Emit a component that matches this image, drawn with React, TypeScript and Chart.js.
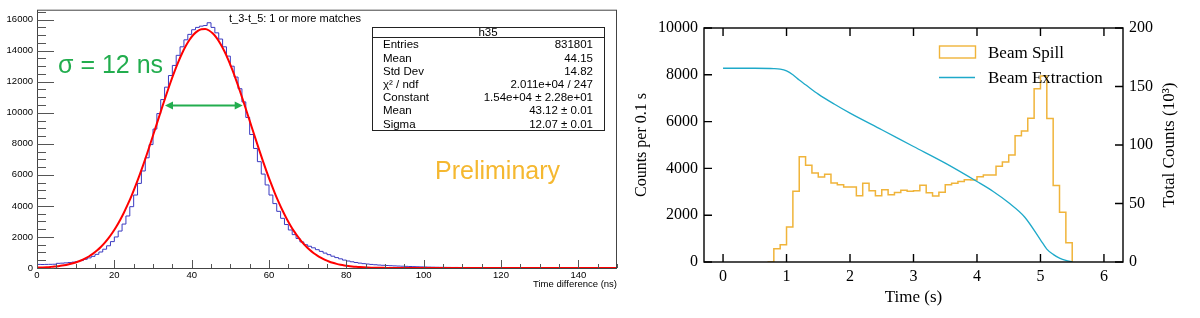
import { useEffect, useRef } from 'react';
import { Chart, registerables } from 'chart.js';
Chart.register(...registerables);

// ================= LEFT PANEL: ROOT histogram h35 =================
const h35BinWidth = 1; // ns
const h35Counts = [
  230, 225, 232, 236, 242, 300, 312, 330, 352, 380,
  420, 478, 560, 650, 750, 880, 1030, 1210, 1430, 1700,
  2000, 2380, 2830, 3350, 3950, 4700, 5450, 6250, 7100, 7950,
  8950, 9950, 10850, 11650, 12400, 13050, 13700, 14250, 14700, 15050,
  15350, 15500, 15580, 15620, 15800, 15500, 15150, 14750, 14250, 13650,
  13000, 12300, 11550, 10700, 9700, 8600, 7700, 6850, 6050, 5350,
  4700, 4150, 3650, 3200, 2800, 2450, 2150, 1900, 1680, 1500,
  1400, 1300, 1180, 1070, 960, 860, 760, 670, 590, 510,
  450, 400, 355, 315, 280, 255, 230, 210, 190, 175,
  160, 148, 136, 125, 115, 105, 96, 88, 80, 72,
  65, 58, 52, 47, 43, 40, 38, 35, 36, 33,
  31, 34, 30, 29, 31, 28, 27, 30, 26, 25,
  28, 24, 26, 23, 25, 22, 24, 21, 23, 20,
  22, 21, 19, 22, 20, 18, 21, 19, 17, 20,
  18, 17, 19, 16, 18, 17, 16, 18, 15, 17,
];
const fitTime = [
  0, 0.5, 1.5, 2.5, 3.5, 4.5, 5.5, 6.5, 7.5, 8.5, 9.5,
  10.5, 11.5, 12.5, 13.5, 14.5, 15.5, 16.5, 17.5, 18.5, 19.5,
  20.5, 21.5, 22.5, 23.5, 24.5, 25.5, 26.5, 27.5, 28.5, 29.5,
  30.5, 31.5, 32.5, 33.5, 34.5, 35.5, 36.5, 37.5, 38.5, 39.5,
  40.5, 41.5, 42.5, 43.5, 44.5, 45.5, 46.5, 47.5, 48.5, 49.5,
  50.5, 51.5, 52.5, 53.5, 54.5, 55.5, 56.5, 57.5, 58.5, 59.5,
  60.5, 61.5, 62.5, 63.5, 64.5, 65.5, 66.5, 67.5, 68.5, 69.5,
  70.5, 71.5, 72.5, 73.5, 74.5, 75.5, 76.5, 77.5, 78.5, 79.5,
  80.5, 81.5, 82.5, 83.5, 84.5, 85.5, 86.5, 87.5, 88.5, 89.5,
  90.5, 92.5, 95, 100, 150,
];
const fitValue = [
  25, 30, 40, 53, 71, 92, 120, 154, 198, 252, 318,
  400, 498, 617, 758, 926, 1123, 1354, 1619, 1924, 2270,
  2660, 3097, 3579, 4110, 4685, 5307, 5968, 6665, 7395, 8147,
  8915, 9688, 10457, 11210, 11933, 12617, 13250, 13818, 14313, 14722,
  15041, 15261, 15380, 15392, 15300, 15103, 14808, 14419, 13945, 13392,
  12774, 12103, 11387, 10640, 9873, 9100, 8331, 7574, 6839, 6132,
  5461, 4829, 4244, 3702, 3208, 2760, 2359, 2002, 1688, 1414,
  1175, 970, 796, 648, 524, 421, 336, 266, 210, 164,
  127, 98, 75, 57, 43, 32, 24, 18, 13, 9,
  7, 4, 2, 0.3, 0,
];
const rootXTicks = [0, 20, 40, 60, 80, 100, 120, 140];
const rootYTicks = [0, 2000, 4000, 6000, 8000, 10000, 12000, 14000, 16000];
const statsTitle = 'h35';
const statsLabels = ['Entries', 'Mean', 'Std Dev', 'χ² / ndf', 'Constant', 'Mean', 'Sigma'];
const statsValues = ['831801', '44.15', '14.82', '2.011e+04 / 247', '1.54e+04 ± 2.28e+01', '43.12 ± 0.01', '12.07 ± 0.01'];
const histTitle = 't_3-t_5: 1 or more matches';
const sigmaText = 'σ = 12 ns';
const arrowFrom = 33.1; // ns
const arrowTo = 53.2; // ns
const arrowLevel = 10470; // counts
const prelimText = 'Preliminary';

// ================= RIGHT PANEL: beam spill =================
const spillBinWidth = 0.1; // s
const spillBinStart = [
  0.7, 0.8, 0.9, 1.0, 1.1, 1.2, 1.3, 1.4, 1.5, 1.6, 1.7, 1.8, 1.9, 2.0, 2.1, 2.2,
  2.3, 2.4, 2.5, 2.6, 2.7, 2.8, 2.9, 3.0, 3.1, 3.2, 3.3, 3.4, 3.5, 3.6, 3.7, 3.8,
  3.9, 4.0, 4.1, 4.2, 4.3, 4.4, 4.5, 4.6, 4.7, 4.8, 4.9, 5.0, 5.1, 5.2, 5.3, 5.4,
];
const spillCounts = [
  0, 570, 740, 1500, 3020, 4500, 4130, 3800, 3630, 3750, 3380, 3300, 3200, 3200, 2830, 3370,
  3040, 2830, 3090, 2870, 2970, 3070, 3020, 3050, 3280, 2960, 2820, 2980, 3300, 3370, 3440, 3520,
  3500, 3640, 3720, 3720, 4090, 4270, 4570, 5400, 5600, 6140, 7400, 7950, 6130, 3270, 2130, 820,
];
const extractionTime = [0, 0.5, 0.8, 0.9, 1.0, 1.1, 1.2, 1.3, 1.5, 1.75, 2.0, 2.5, 3.0, 3.5, 4.0, 4.25, 4.5, 4.75, 5.0, 5.1, 5.2, 5.3, 5.4, 5.5];
const extractionTotal = [165.6, 165.6, 165.3, 164.8, 163.3, 160, 155.5, 151.5, 143.5, 135, 127.2, 113, 98.7, 84.5, 68.8, 60.5, 50.6, 38.5, 19, 11, 6.5, 3.3, 1.3, 0.2];
const timeTicks = [0, 1, 2, 3, 4, 5, 6];
const countTicks = [0, 2000, 4000, 6000, 8000, 10000];
const totalTicks = [0, 50, 100, 150, 200];
const spillLabel = 'Beam Spill';
const extractionLabel = 'Beam Extraction';
const xTitleRight = 'Time (s)';
const yTitleLeft = 'Counts per 0.1 s';
const yTitleRight = 'Total Counts (10³)';

const SANS = "'Liberation Sans', Arial, sans-serif";
const SERIF = "'Liberation Serif', 'DejaVu Serif', serif";
const ORANGE = '#f0b43a';
const CYAN = '#1ea9c9';
const GREEN = '#22ad4e';

const setTicks = (vals: number[]) => (s: any) => { s.ticks = vals.map((v) => ({ value: v })); };
const plainLabel = (v: any) => String(v);

// ---------- ROOT decorations plugin ----------
const rootPlugin = {
  id: 'rootDecor',
  afterDraw(chart: any) {
    const { ctx, chartArea: a, scales } = chart;
    const xs = scales.x, ys = scales.y;
    ctx.save();
    ctx.strokeStyle = '#444';
    ctx.lineWidth = 1;
    ctx.strokeRect(a.left + 0.5, a.top + 0.5, a.right - a.left - 1, a.bottom - a.top);
    ctx.strokeStyle = '#555';
    ctx.beginPath();
    for (let v = 0; v <= ys.max; v += 500) {
      const py = Math.round(ys.getPixelForValue(v)) + 0.5;
      const len = v % 2000 === 0 ? 17 : 9;
      ctx.moveTo(a.left, py);
      ctx.lineTo(a.left + len, py);
    }
    for (let v = 0; v <= xs.max; v += 5) {
      const px = Math.round(xs.getPixelForValue(v)) + 0.5;
      const len = v % 20 === 0 ? 8 : 4;
      ctx.moveTo(px, a.bottom);
      ctx.lineTo(px, a.bottom - len);
    }
    ctx.stroke();
    ctx.fillStyle = '#000';
    ctx.font = `11px ${SANS}`;
    ctx.textBaseline = 'middle';
    ctx.textAlign = 'left';
    ctx.fillText(histTitle, 229, 19);
    const bx = 372, by = 27, bw = 232, bh = 103;
    ctx.fillStyle = '#fff';
    ctx.fillRect(bx, by, bw, bh);
    ctx.strokeStyle = '#222';
    ctx.strokeRect(bx + 0.5, by + 0.5, bw, bh);
    ctx.beginPath();
    ctx.moveTo(bx, by + 10.5);
    ctx.lineTo(bx + bw, by + 10.5);
    ctx.stroke();
    ctx.fillStyle = '#000';
    ctx.font = `11.5px ${SANS}`;
    ctx.textAlign = 'center';
    ctx.fillText(statsTitle, bx + bw / 2, by + 6);
    statsLabels.forEach((lab, i) => {
      const yy = 45.2 + i * 13.2;
      ctx.textAlign = 'left';
      ctx.fillText(lab, 383, yy);
      ctx.textAlign = 'right';
      ctx.fillText(statsValues[i], 593, yy);
    });
    ctx.fillStyle = GREEN;
    ctx.font = `25px ${SANS}`;
    ctx.textAlign = 'left';
    ctx.textBaseline = 'alphabetic';
    ctx.fillText(sigmaText, 58, 73);
    const x1 = xs.getPixelForValue(arrowFrom);
    const x2 = xs.getPixelForValue(arrowTo);
    const ay = ys.getPixelForValue(arrowLevel);
    ctx.strokeStyle = GREEN;
    ctx.lineWidth = 2.2;
    ctx.beginPath();
    ctx.moveTo(x1 + 4, ay);
    ctx.lineTo(x2 - 4, ay);
    ctx.stroke();
    ctx.beginPath();
    ctx.moveTo(x1, ay); ctx.lineTo(x1 + 8, ay - 4); ctx.lineTo(x1 + 8, ay + 4); ctx.closePath();
    ctx.moveTo(x2, ay); ctx.lineTo(x2 - 8, ay - 4); ctx.lineTo(x2 - 8, ay + 4); ctx.closePath();
    ctx.fill();
    ctx.fillStyle = '#f5b830';
    ctx.font = `25px ${SANS}`;
    ctx.fillText(prelimText, 435, 179);
    ctx.restore();
  },
};

// ---------- gnuplot-style decorations plugin ----------
const gnuPlugin = {
  id: 'gnuDecor',
  afterDraw(chart: any) {
    const { ctx, chartArea: a, scales } = chart;
    const xs = scales.x, ys = scales.y, y2 = scales.y2;
    ctx.save();
    ctx.strokeStyle = '#000';
    ctx.lineWidth = 1.4;
    ctx.strokeRect(a.left, a.top, a.right - a.left, a.bottom - a.top);
    const tl = 8;
    ctx.beginPath();
    xs.ticks.forEach((t: any) => {
      const px = xs.getPixelForValue(t.value);
      ctx.moveTo(px, a.bottom); ctx.lineTo(px, a.bottom - tl);
      ctx.moveTo(px, a.top); ctx.lineTo(px, a.top + tl);
    });
    ys.ticks.forEach((t: any) => {
      const py = ys.getPixelForValue(t.value);
      ctx.moveTo(a.left, py); ctx.lineTo(a.left + tl, py);
    });
    y2.ticks.forEach((t: any) => {
      const py = y2.getPixelForValue(t.value);
      ctx.moveTo(a.right, py); ctx.lineTo(a.right - tl, py);
    });
    ctx.stroke();
    const ds = chart.data.datasets;
    ctx.font = `17px ${SERIF}`;
    ctx.textAlign = 'left';
    ctx.textBaseline = 'alphabetic';
    ctx.lineWidth = 1.4;
    ds.forEach((d: any, i: number) => {
      const base = 58 + i * 25;
      ctx.strokeStyle = d.borderColor;
      if (d.stepped) {
        ctx.strokeRect(319.5, base - 12, 36, 12);
      } else {
        ctx.beginPath();
        ctx.moveTo(319, base - 5.5);
        ctx.lineTo(355, base - 5.5);
        ctx.stroke();
      }
      ctx.fillStyle = '#000';
      ctx.fillText(d.label, 368, base);
    });
    ctx.save();
    ctx.translate(y2.right - 30, (y2.top + y2.bottom) / 2);
    ctx.rotate(-Math.PI / 2);
    ctx.textAlign = 'center';
    ctx.textBaseline = 'middle';
    ctx.font = `17px ${SERIF}`;
    ctx.fillText(yTitleRight, 0, 0);
    ctx.restore();
    ctx.restore();
  },
};

function leftConfig(): any {
  const hist = h35Counts.map((v, i) => ({ x: i * h35BinWidth, y: v }));
  hist.push({ x: h35Counts.length * h35BinWidth, y: h35Counts[h35Counts.length - 1] });
  const fit = fitTime.map((t, i) => ({ x: t, y: fitValue[i] }));
  const tickFont = { family: SANS, size: 9.5 };
  return {
    type: 'line',
    data: {
      datasets: [
        { label: 'fit', data: fit, borderColor: '#ff0000', borderWidth: 2, pointRadius: 0, fill: false, cubicInterpolationMode: 'monotone', order: 0 },
        { label: 'h35', data: hist, borderColor: '#3a3ac0', borderWidth: 1, pointRadius: 0, fill: false, stepped: 'before', order: 1 },
      ],
    },
    options: {
      animation: false,
      responsive: false,
      layout: { padding: { top: 7, right: 3, left: 0, bottom: 0 } },
      plugins: { legend: { display: false }, tooltip: { enabled: false } },
      scales: {
        x: {
          type: 'linear', min: 0, max: 150,
          grid: { display: false, drawTicks: false }, border: { display: false },
          afterBuildTicks: setTicks(rootXTicks),
          ticks: { font: tickFont, color: '#000', padding: 2, maxRotation: 0, autoSkip: false, callback: plainLabel },
          title: { display: true, text: 'Time difference (ns)', align: 'end', color: '#000', font: { family: SANS, size: 9.5 }, padding: { top: 0, bottom: 28 } },
          afterFit: (s: any) => { s.height = 50; },
        },
        y: {
          type: 'linear', min: 0, max: 16640,
          grid: { display: false, drawTicks: false }, border: { display: false },
          afterBuildTicks: setTicks(rootYTicks),
          ticks: { font: tickFont, color: '#000', padding: 4, autoSkip: false, callback: plainLabel },
          afterFit: (s: any) => { s.width = 37; },
        },
      },
    },
    plugins: [rootPlugin],
  };
}

function rightConfig(): any {
  const spill = spillBinStart.map((t, i) => ({ x: t, y: spillCounts[i] }));
  spill.push({ x: spillBinStart[spillBinStart.length - 1] + spillBinWidth, y: 0 });
  const extr = extractionTime.map((t, i) => ({ x: t, y: extractionTotal[i] }));
  const tickFont = { family: SERIF, size: 16 };
  return {
    type: 'line',
    data: {
      datasets: [
        { label: spillLabel, data: spill, borderColor: ORANGE, borderWidth: 1.5, pointRadius: 0, fill: false, stepped: 'before', yAxisID: 'y', order: 1 },
        { label: extractionLabel, data: extr, borderColor: CYAN, borderWidth: 1.3, pointRadius: 0, fill: false, cubicInterpolationMode: 'monotone', yAxisID: 'y2', order: 0 },
      ],
    },
    options: {
      animation: false,
      responsive: false,
      layout: { padding: { top: 28, right: 0, left: 0, bottom: 0 } },
      plugins: { legend: { display: false }, tooltip: { enabled: false } },
      scales: {
        x: {
          type: 'linear', min: -0.3, max: 6.3,
          grid: { display: false, drawTicks: false }, border: { display: false },
          afterBuildTicks: setTicks(timeTicks),
          ticks: { font: tickFont, color: '#000', padding: 5, maxRotation: 0, autoSkip: false, callback: plainLabel },
          title: { display: true, text: xTitleRight, color: '#000', font: { family: SERIF, size: 17 }, padding: { top: 0, bottom: 10 } },
          afterFit: (s: any) => { s.height = 56; },
        },
        y: {
          type: 'linear', position: 'left', min: 0, max: 10000,
          grid: { display: false, drawTicks: false }, border: { display: false },
          afterBuildTicks: setTicks(countTicks),
          ticks: { font: tickFont, color: '#000', padding: 6, autoSkip: false, callback: plainLabel },
          title: { display: true, text: yTitleLeft, color: '#000', font: { family: SERIF, size: 16 }, padding: { top: 12, bottom: 0 } },
          afterFit: (s: any) => { s.width = 84; },
        },
        y2: {
          type: 'linear', position: 'right', min: 0, max: 200,
          grid: { display: false, drawTicks: false, drawOnChartArea: false }, border: { display: false },
          afterBuildTicks: setTicks(totalTicks),
          ticks: { font: tickFont, color: '#000', padding: 6, autoSkip: false, callback: plainLabel },
          afterFit: (s: any) => { s.width = 77; },
        },
      },
    },
    plugins: [gnuPlugin],
  };
}

export default function App() {
  const leftRef = useRef<HTMLCanvasElement>(null);
  const rightRef = useRef<HTMLCanvasElement>(null);
  useEffect(() => {
    const c1 = new Chart(leftRef.current as HTMLCanvasElement, leftConfig());
    const c2 = new Chart(rightRef.current as HTMLCanvasElement, rightConfig());
    return () => { c1.destroy(); c2.destroy(); };
  }, []);
  return (
    <div style={{ position: 'absolute', left: 0, top: 0, width: 1200, height: 318, background: '#fff', overflow: 'hidden' }}>
      <canvas ref={leftRef} width={620} height={318} style={{ position: 'absolute', left: 0, top: 0 }} />
      <canvas ref={rightRef} width={580} height={318} style={{ position: 'absolute', left: 620, top: 0 }} />
    </div>
  );
}
